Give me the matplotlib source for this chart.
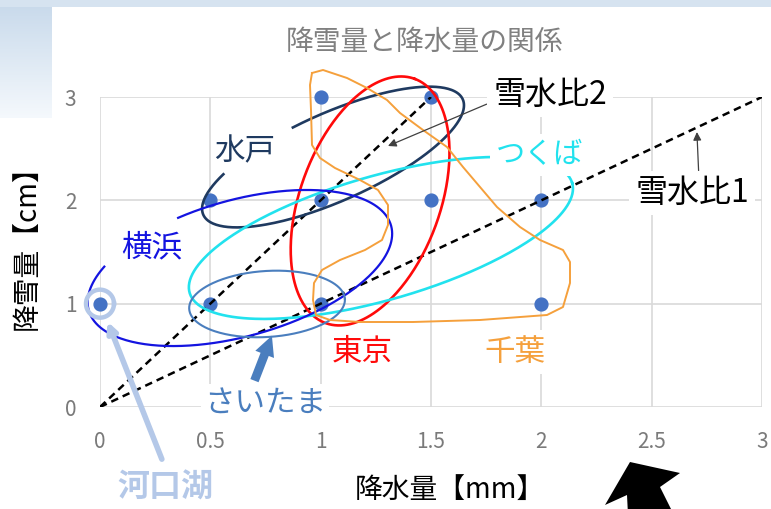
import numpy as np
import matplotlib
matplotlib.use("Agg")
import matplotlib.pyplot as plt
from matplotlib.patches import Polygon

plt.rcParams['font.family'] = ['Noto Sans CJK JP', 'DejaVu Sans']

# データ (降水量 mm, 降雪量 cm)
precip = [0, 0.5, 0.5, 1, 1, 1, 1.5, 1.5, 2, 2]
snow = [1, 1, 2, 1, 2, 3, 2, 3, 2, 1]

# 雪水比の線 (傾き)
ratio_names = ['雪水比1', '雪水比2']
ratio_slopes = [1, 2]

x_ticks = [0, 0.5, 1, 1.5, 2, 2.5, 3]
x_ticklabels = ['0', '0.5', '1', '1.5', '2', '2.5', '3']
y_ticks = [0, 1, 2, 3]

W, H = 771, 509
fig = plt.figure(figsize=(W / 100, H / 100), dpi=100)

# 背景 (スライドの青いグラデーション)
bg = fig.add_axes([0, 0, 1, 1], zorder=-5)
bg.set_xlim(0, W)
bg.set_ylim(H, 0)
bg.axis('off')
grad = np.linspace(0, 1, 100)[:, None] * np.ones((1, 10))
c0 = np.array([0.78, 0.85, 0.92])
c1 = np.array([0.96, 0.975, 0.99])
img = c0[None, None, :] * (1 - grad[..., None]) + c1[None, None, :] * grad[..., None]
bg.imshow(img, extent=[0, 52, 118, 0], aspect='auto')
bg.add_patch(plt.Rectangle((0, 0), W, 7, color='#D6E3F0', lw=0))

# グラフ領域
x0, x1, y0, y1 = 100, 762, 97, 407
ax = fig.add_axes([x0 / W, 1 - y1 / H, (x1 - x0) / W, (y1 - y0) / H])
ax.set_xlim(0, 3)
ax.set_ylim(0, 3)
ax.set_facecolor('none')
for s in ax.spines.values():
    s.set_visible(False)
ax.set_xticks(x_ticks)
ax.set_xticklabels(x_ticklabels)
ax.set_yticks(y_ticks)
ax.tick_params(length=0, labelsize=15, labelcolor='#7A7A7A', pad=17)
ax.grid(True, color='#D9D9D9', lw=1.2, zorder=0)
ax.set_axisbelow(True)

sx = (x1 - x0) / 3
sy = (y1 - y0) / 3

ax.scatter(precip, snow, s=85, color='#4472C4', zorder=3, clip_on=False)

for slope in ratio_slopes:
    xe = min(3, 3 / slope)
    ax.plot([0, xe], [0, xe * slope], color='black', ls=(0, (3, 2)), lw=1.8, zorder=4)


def loop(cx, cy, a, b, ang, t0=0, t1=360, **kw):
    # 手書き風の楕円 (a, b はピクセル, ang は画面上の角度)
    t = np.radians(np.linspace(t0, t1, 300))
    th = np.radians(ang)
    dx = a * np.cos(t) * np.cos(th) + b * np.sin(t) * np.sin(th)
    dy = -a * np.cos(t) * np.sin(th) + b * np.sin(t) * np.cos(th)
    ax.plot(cx + dx / sx, cy - dy / sy, zorder=5, clip_on=False, **kw)


loop(1.056, 2.419, 142, 44, 24, 260, 581, color='#1F3A60', lw=1.9)   # 水戸
loop(1.224, 1.994, 130, 70, 70, color='#FF0A0A', lw=1.9)             # 東京
loop(1.273, 1.636, 199, 62, 16, color='#22E2EE', lw=1.9)             # つくば
loop(0.634, 1.345, 157, 68, 15.7, 253, 574, color='#1414E0', lw=1.6)  # 横浜
loop(0.757, 0.997, 78, 33, 3.7, color='#4A7EBE', lw=1.5)             # さいたま

# 千葉 (手書きの囲み)
chiba_px = [(312, 73), (323, 70), (347, 78), (367, 88), (387, 100), (400, 113), (423, 130),
            (447, 147), (463, 167), (480, 187), (497, 207), (520, 227), (540, 240), (563, 250),
            (570, 262), (570, 283), (563, 307), (547, 315), (480, 320), (413, 322), (360, 322),
            (330, 320), (316, 315), (313, 300), (314, 283), (322, 270), (340, 260), (365, 250),
            (382, 240), (388, 225), (388, 205), (378, 190), (360, 180), (335, 168), (320, 158),
            (312, 145), (311, 110), (310, 85), (312, 73)]
cx_ = [(p[0] - x0) / sx for p in chiba_px]
cy_ = [(y1 - p[1]) / sy for p in chiba_px]
ax.plot(cx_, cy_, color='#F5A03C', lw=1.4, zorder=5, clip_on=False)

# 河口湖
t = np.radians(np.linspace(0, 360, 100))
ax.plot(0 + 14 * np.cos(t) / sx, 1 + 14 * np.sin(t) / sy, color='#B4C8E8', lw=3.2,
        zorder=6, clip_on=False)
ax.annotate('', xy=(0.03, 0.85), xytext=(0.285, -0.53),
            arrowprops=dict(arrowstyle='-|>', color='#B4C8E8', lw=4, mutation_scale=14),
            zorder=6, annotation_clip=False)
ax.text(0.295, -0.784, '河口湖', color='#B4C8E8', fontsize=23, ha='center', va='center',
        fontweight='bold')

# さいたま
ax.annotate('', xy=(0.779, 0.69), xytext=(0.700, 0.255),
            arrowprops=dict(arrowstyle='simple,head_width=0.8,head_length=0.8,tail_width=0.35',
                            color='#4A7EBE', lw=0, mutation_scale=18, shrinkA=0, shrinkB=0),
            zorder=6)
ax.text(0.748, 0.039, 'さいたま', color='#4A7EBE', fontsize=22, ha='center', va='center',
        bbox=dict(boxstyle='square,pad=0.1', fc='white', ec='none'), zorder=7)

# ラベル
kw = dict(ha='center', va='center', zorder=7)
ax.text(0.657, 2.468, '水戸', color='#1F3A60', fontsize=22, **kw)
ax.text(0.236, 1.539, '横浜', color='#1414E0', fontsize=22, **kw)
ax.text(1.187, 0.532, '東京', color='#FF0A0A', fontsize=22, **kw)
ax.text(1.881, 0.532, '千葉', color='#F5A03C', fontsize=22,
        bbox=dict(boxstyle='square,pad=0.2', fc='white', ec='none'), **kw)
ax.text(1.994, 2.439, 'つくば', color='#22E2EE', fontsize=21,
        bbox=dict(boxstyle='square,pad=0.2', fc='white', ec='none'), **kw)

ax.annotate(ratio_names[1], xy=(1.305, 2.526), xytext=(2.039, 3.019), fontsize=23,
            ha='center', va='center', zorder=7,
            bbox=dict(boxstyle='square,pad=0.2', fc='white', ec='none'),
            arrowprops=dict(arrowstyle='-|>', color='#404040', lw=0.9, mutation_scale=12,
                            shrinkA=0, shrinkB=0, relpos=(0.0, 0.3)),
            annotation_clip=False)
ax.annotate(ratio_names[0], xy=(2.705, 2.661), xytext=(2.683, 2.071), fontsize=23,
            ha='center', va='center', zorder=7,
            bbox=dict(boxstyle='square,pad=0.2', fc='white', ec='none'),
            arrowprops=dict(arrowstyle='-|>', color='#404040', lw=0.9, mutation_scale=12,
                            shrinkA=0, shrinkB=0, relpos=(0.56, 1.0)))

# タイトル・軸ラベル
fig.text(424 / W, 1 - 42 / H, '降雪量と降水量の関係', color='#808080', fontsize=20,
         ha='center', va='center')
fig.text(450 / W, 1 - 490 / H, '降水量【mm】', color='black', fontsize=20,
         ha='center', va='center')
fig.text(27 / W, 1 - 241 / H, '降雪量【cm】', color='black', fontsize=20,
         rotation=90, ha='center', va='center')

# 下の大きな黒い矢印
arrow_px = [(630, 462), (680, 473), (660, 487), (674, 515), (628, 515), (627, 495), (605, 505)]
fig.patches.append(Polygon([(x / W, 1 - y / H) for x, y in arrow_px], closed=True,
                           transform=fig.transFigure, fc='black', ec='none', zorder=8))

fig.savefig('out.png', dpi=100)
